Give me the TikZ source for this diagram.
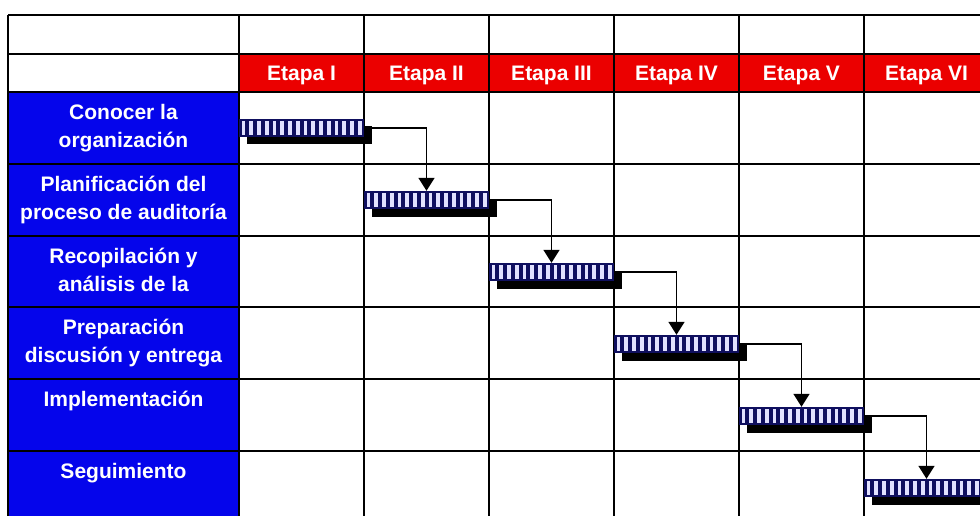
\documentclass[tikz,border=0pt]{standalone}
\usepackage{fontspec}
\setmainfont{Liberation Sans}
\usetikzlibrary{arrows.meta}
\definecolor{rojo}{RGB}{235,0,0}
\definecolor{azul}{RGB}{5,5,235}
\definecolor{marino}{RGB}{15,15,95}
\definecolor{lila}{RGB}{225,225,255}

\begin{document}
\begin{tikzpicture}[x=1pt,y=-1pt,
    etapa/.style={text=white,font=\bfseries\fontsize{21}{28}\selectfont,anchor=base,inner sep=0pt},
    tarea/.style={text=white,font=\bfseries\fontsize{21}{28}\selectfont,align=center,anchor=north,inner sep=0pt},
    barra/.style={fill=marino,minimum width=125pt,minimum height=18pt,inner sep=0pt,
      path picture={\foreach \k in {0,...,15}
        \fill[lila] ([xshift={2.5pt+7.75pt*\k},yshift=2pt]path picture bounding box.south west) rectangle ++(3.8pt,14pt);}},
    sombra/.style={fill=black,minimum width=125pt,minimum height=18pt,inner sep=0pt},
    flecha/.style={line width=1.6pt,-{Triangle[width=16pt,length=13pt]}},
    rejilla/.style={line width=1.5pt}]
    \useasboundingbox (0,0) rectangle (980,516);
    \clip (0,0) rectangle (980,516);
    \fill[white] (0,0) rectangle (980,516);
    % colored cells
    \fill[rojo] (239,54) rectangle (990,92);
    \fill[azul] (8,92) rectangle (239,520);
    % grid
    \foreach \y in {15,54,92,164,236,307,379,451}
        \draw[rejilla] (8,\y) -- (990,\y);
    \foreach \x in {8,239,364,489,614,739,864}
        \draw[rejilla] (\x,15) -- (\x,520);
    % stages
    \foreach \i/\r in {1/I,2/II,3/III,4/IV,5/V,6/VI}
        \node[etapa] (e\i) at ({176.5+125*\i},81) {Etapa \r};
    % tasks
    \node[tarea] (t1) at (123.5,104) {Conocer la\\organización};
    \node[tarea] (t2) at (123.5,176) {Planificación del\\proceso de auditoría};
    \node[tarea] (t3) at (123.5,248) {Recopilación y\\análisis de la};
    \node[tarea] (t4) at (123.5,319) {Preparación\\discusión y entrega};
    \node[tarea] (t5) at (123.5,391) {Implementación};
    \node[tarea] (t6) at (123.5,463) {Seguimiento};
    % bars
    \foreach \i in {1,...,6} {
        \node[sombra] (s\i) at ({184.5+125*\i},{63.5+72*\i}) {};
        \node[barra] (b\i) at ({176.5+125*\i},{56+72*\i}) {};
    }
    \foreach \i [evaluate=\i as \j using int(\i+1)] in {1,...,5}
        \draw[flecha] ([yshift=-1.5pt]s\i.north east) -| (b\j.north);
\end{tikzpicture}
\end{document}
